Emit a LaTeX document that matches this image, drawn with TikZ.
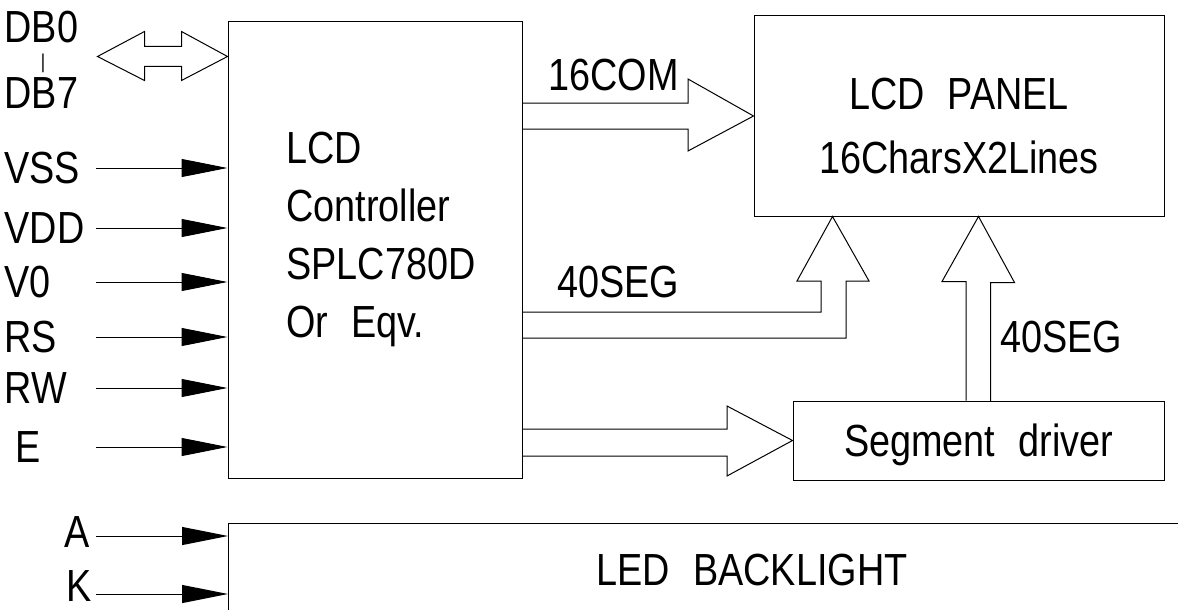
\documentclass[tikz,border=0pt]{standalone}
\usepackage{fontspec}
\setmainfont{Liberation Sans}[FakeStretch=0.84,WordSpace=2.2]
\usetikzlibrary{arrows.meta,calc}

\begin{document}
\begin{tikzpicture}[x=1pt,y=-1pt,line width=1pt,every node/.style={font=\fontsize{45}{58}\selectfont,inner sep=0pt}]
\tikzset{box/.style={draw,inner sep=0pt}, pin/.style={-{Triangle[length=46pt,width=18pt]}}, bus/.style={draw,line join=miter}}
\useasboundingbox (0,0) rectangle (1178,610);
% blocks
\node[box,minimum width=294pt,minimum height=456pt] (ctrl) at (375,250) {};
\node[box,minimum width=410pt,minimum height=200pt] (panel) at (959,116) {};
\node[box,minimum width=371pt,minimum height=79pt,text depth=0pt] (seg) at (978.5,440.5) {Segment driver};
\node[anchor=north west,align=left] (ctrltext) at (286,132) {LCD\\Controller\\SPLC780D\\Or Eqv.};
\node[anchor=north,align=center,font=\fontsize{45}{64}\selectfont] (paneltext) at (959,78) {LCD PANEL\\16CharsX2Lines};
% bus labels
\node[anchor=base west] (com) at (548,91) {16COM};
\node[anchor=base west] (segl) at (557,297) {40SEG};
\node[anchor=base west] (segr) at (1000,352) {40SEG};
% data bus
\node[anchor=base west] (db0) at (4,43) {DB0};
\node[font=\fontsize{20}{20}\selectfont] (dbsep) at (43,63) {|};
\node[anchor=base west] (db7) at (4,108) {DB7};
\coordinate (dbtip) at ($(ctrl.north west)+(0,35)$);
\draw[bus] (dbtip) -- ++(-46,-25) -- ++(0,15) -- ++(-37,0) -- ++(0,-15) -- ++(-47,25) -- ++(47,24) -- ++(0,-14) -- ++(37,0) -- ++(0,14) -- cycle;
% control inputs
\foreach \pin/\xpos/\ypos in {VSS/4/168,VDD/4/228,V0/4/282,RS/4/337,RW/4/388,E/15/447} {
  \node[anchor=west] (\pin) at (\xpos,\ypos) {\pin};
  \coordinate (\pin in) at (96,\ypos);
  \draw[pin] (\pin in) -- (ctrl.west |- \pin in);
}
% wide buses
\draw[bus] (ctrl.east |- 0,103) -- (688,103) -- (688,79) -- (panel.west) -- (688,151) -- (688,129) -- (ctrl.east |- 0,129);
\coordinate (segtip) at ($(panel.south west)+(79,0)$);
\draw[bus] (ctrl.east |- 0,312) -- (821,312) -- (821,281) -- (797,281) -- (segtip) -- (869,281) -- (846,281) -- (846,338) -- (ctrl.east |- 0,338);
\draw[bus] (ctrl.east |- 0,429) -- (727,429) -- ++(0,-23) -- (seg.west) -- (727,476) -- ++(0,-20) -- (ctrl.east |- 0,456);
\coordinate (drvtip) at (panel.south -| seg.north);
\draw[bus] ([xshift=-12.5pt]seg.north) -- ++(0,-119) -- ++(-24,0) -- (drvtip) -- ++(36,66) -- ++(-24,0) -- ++(0,119);
% backlight
\coordinate (ledcorner) at (228,523);
\draw (ledcorner |- 0,610) -- (ledcorner) -- (1178,523);
\node[anchor=base] (led) at (752,585) {LED BACKLIGHT};
\node[anchor=base east] (A) at (90,547) {A};
\node[anchor=base east] (K) at (92,601) {K};
\coordinate (A in) at (96,536);
\coordinate (K in) at (96,594);
\draw[pin] (A in) -- (ledcorner |- A in);
\draw[pin] (K in) -- (ledcorner |- K in);
\end{tikzpicture}
\end{document}
